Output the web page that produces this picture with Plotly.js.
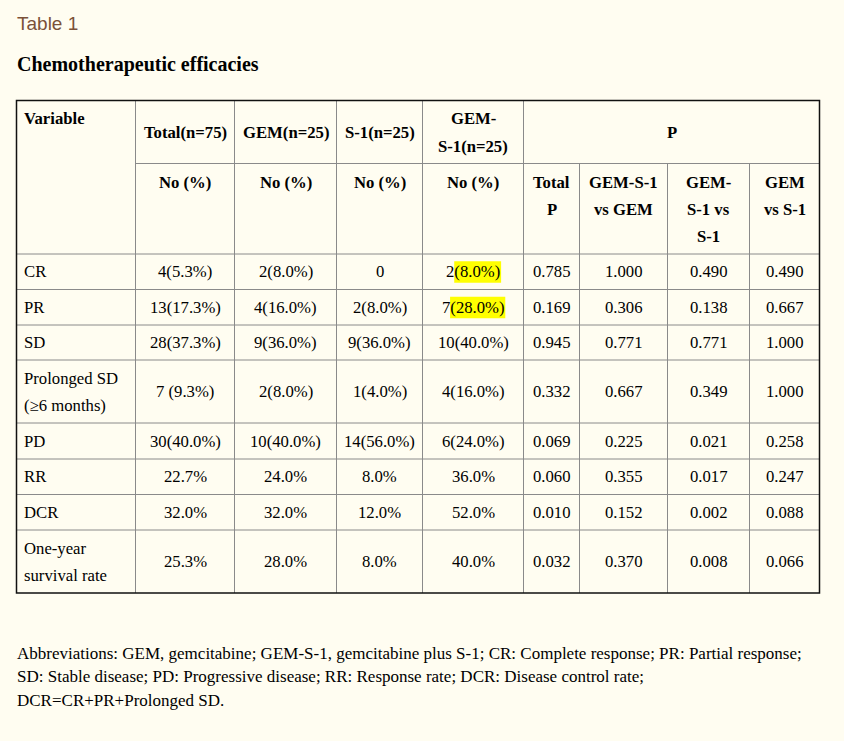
<!DOCTYPE html>
<html><head><meta charset="utf-8">
<script src="https://cdn.plot.ly/plotly-3.0.1.min.js"></script>
<style>html,body{margin:0;padding:0;background:#FFFDF1;} #chart{width:844px;height:741px;}</style>
</head><body><div id="chart"></div>
<script>
// ---------- data ----------
const tableLabel = "Table 1";
const tableTitle = "Chemotherapeutic efficacies";
const varHeader = "Variable";
const groupHeaders = ["Total(n=75)", "GEM(n=25)", "S-1(n=25)", "GEM-<br>S-1(n=25)"];
const countHeader = "No (%)";
const pHeader = "P";
const pSubHeaders = ["Total<br>P", "GEM-S-1<br>vs GEM", "GEM-<br>S-1 vs<br>S-1", "GEM<br>vs S-1"];
const variables = ["CR", "PR", "SD", "Prolonged SD<br>(≥6 months)", "PD", "RR", "DCR", "One-year<br>survival rate"];
const totalCol = ["4(5.3%)", "13(17.3%)", "28(37.3%)", "7 (9.3%)", "30(40.0%)", "22.7%", "32.0%", "25.3%"];
const gemCol = ["2(8.0%)", "4(16.0%)", "9(36.0%)", "2(8.0%)", "10(40.0%)", "24.0%", "32.0%", "28.0%"];
const s1Col = ["0", "2(8.0%)", "9(36.0%)", "1(4.0%)", "14(56.0%)", "8.0%", "12.0%", "8.0%"];
const gemS1Col = ["2(8.0%)", "7(28.0%)", "10(40.0%)", "4(16.0%)", "6(24.0%)", "36.0%", "52.0%", "40.0%"];
const pTotal = ["0.785", "0.169", "0.945", "0.332", "0.069", "0.060", "0.010", "0.032"];
const pGemS1vsGem = ["1.000", "0.306", "0.771", "0.667", "0.225", "0.355", "0.152", "0.370"];
const pGemS1vsS1 = ["0.490", "0.138", "0.771", "0.349", "0.021", "0.017", "0.002", "0.008"];
const pGemvsS1 = ["0.490", "0.667", "1.000", "1.000", "0.258", "0.247", "0.088", "0.066"];
const highlightedCells = [[4, 0], [4, 1]]; // [column, row]: percentage part highlighted
const footnoteLines = [
  "Abbreviations: GEM, gemcitabine; GEM-S-1, gemcitabine plus S-1; CR: Complete response; PR: Partial response;",
  "SD: Stable disease; PD: Progressive disease; RR: Response rate; DCR: Disease control rate;",
  "DCR=CR+PR+Prolonged SD."
];

// ---------- layout geometry ----------
const W = 844, H = 741;
const colEdges = [16.5, 135.5, 234.5, 336.5, 422.5, 523.5, 579.5, 667.5, 749.5, 819.5];
const rowEdges = [100.5, 163.5, 254, 289.5, 325, 360, 423, 459, 494.5, 530, 593];
const LH = 27;
const SERIF = "Liberation Serif, Times New Roman, serif";
const FS = 16.7;
const BG = "#FFFDF1";
const INNER = "#8a8a8a";

const columns = [variables, totalCol, gemCol, s1Col, gemS1Col, pTotal, pGemS1vsGem, pGemS1vsS1, pGemvsS1];
const annotations = [];
const shapes = [];

function colCenter(c) { return (colEdges[c] + colEdges[c + 1]) / 2; }
function rowCenter(r) { return (rowEdges[r] + rowEdges[r + 1]) / 2; }

function addText(x, y, text, opt) {
  opt = opt || {};
  const lines = text.split("<br>");
  const lh = opt.lh || LH;
  const top = opt.top ? y : y - (lines.length - 1) * lh / 2;
  lines.forEach((ln, i) => {
    annotations.push({
      x: x, y: top + i * lh, xref: "x", yref: "y", text: ln, showarrow: false,
      xanchor: opt.xanchor || "center", yanchor: "middle",
      font: { family: opt.family || SERIF, size: opt.size || FS, color: opt.color || "#000",
              weight: opt.bold ? 700 : 400 }
    });
  });
}

const LPAD = 5.5;
// header row 1
addText(colEdges[0] + LPAD, rowEdges[0] + 17.5, varHeader, { xanchor: "left", bold: true, top: true });
groupHeaders.forEach((h, i) => addText(colCenter(i + 1), rowCenter(0), h, { bold: true, lh: 28 }));
addText((colEdges[5] + colEdges[9]) / 2, rowCenter(0), pHeader, { bold: true });
// header row 2
for (let i = 1; i <= 4; i++) addText(colCenter(i), rowEdges[1] + 18.5, countHeader, { bold: true, top: true });
pSubHeaders.forEach((h, i) => addText(colCenter(i + 5), rowEdges[1] + 18.5, h, { bold: true, top: true }));

// body
const ctx = document.createElement("canvas").getContext("2d");
ctx.font = FS + "px 'Liberation Serif'";
columns.forEach((col, c) => {
  col.forEach((val, r) => {
    const y = rowCenter(r + 2);
    if (c === 0) addText(colEdges[0] + LPAD, y, val, { xanchor: "left" });
    else addText(colCenter(c), y, val);
  });
});
highlightedCells.forEach(([c, r]) => {
  const val = columns[c][r];
  const m = val.match(/^([^(]*)(\(.*\))$/);
  if (!m) return;
  const wAll = ctx.measureText(val).width, w1 = ctx.measureText(m[1]).width;
  const x0 = colCenter(c) - wAll / 2 + w1;
  const y = rowCenter(r + 2);
  shapes.push({ type: "rect", xref: "x", yref: "y", x0: x0, x1: x0 + wAll - w1 + 1, y0: y - 10.5, y1: y + 11,
    fillcolor: "#FFFF00", line: { width: 0 }, layer: "below" });
});

// grid lines
function line(x0, y0, x1, y1, color, width) {
  shapes.push({ type: "line", xref: "x", yref: "y", x0, y0, x1, y1, line: { color: color, width: width }, layer: "above" });
}
for (let i = 1; i < colEdges.length - 1; i++) {
  const yStart = (i >= 6) ? rowEdges[1] : rowEdges[0];
  line(colEdges[i], yStart, colEdges[i], rowEdges[rowEdges.length - 1], INNER, 1);
}
line(colEdges[1], rowEdges[1], colEdges[9], rowEdges[1], INNER, 1);
for (let j = 2; j < rowEdges.length - 1; j++) line(colEdges[0], rowEdges[j], colEdges[9], rowEdges[j], INNER, 1);
shapes.push({ type: "rect", xref: "x", yref: "y", x0: colEdges[0], x1: colEdges[9], y0: rowEdges[0], y1: rowEdges[rowEdges.length - 1],
  line: { color: "#111", width: 1.5 }, layer: "above" });

// titles and footnote
addText(15, 23.5, tableLabel, { xanchor: "left", family: "Liberation Sans, Arial, sans-serif", size: 19, color: "#7B5138" });
addText(15, 64, tableTitle, { xanchor: "left", size: 20, bold: true });
footnoteLines.forEach((t, i) => addText(14.5, 653 + i * 23.5, t, { xanchor: "left", size: 17 }));

Plotly.newPlot("chart", [], {
  width: W, height: H, margin: { l: 0, r: 0, t: 0, b: 0 },
  paper_bgcolor: BG, plot_bgcolor: BG, showlegend: false,
  xaxis: { range: [0, W], visible: false, fixedrange: true },
  yaxis: { range: [H, 0], visible: false, fixedrange: true },
  annotations: annotations, shapes: shapes
}, { displayModeBar: false, staticPlot: true });
</script></body></html>
